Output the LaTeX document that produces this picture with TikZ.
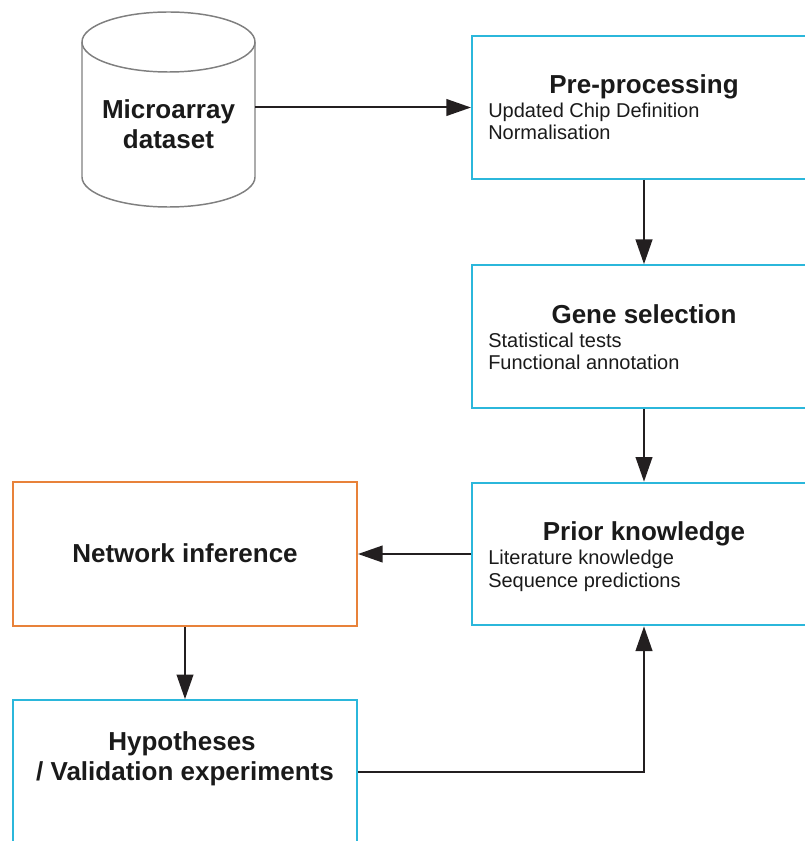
\documentclass[tikz,border=0pt]{standalone}
\usepackage{fontspec}
\setmainfont{Liberation Sans}
\usetikzlibrary{arrows.meta}
\definecolor{boxcyan}{HTML}{2BB7DB}
\definecolor{boxorange}{HTML}{E8823A}
\definecolor{arrowcol}{HTML}{231F20}
\definecolor{cylgray}{HTML}{7F7F7F}
\definecolor{textcol}{HTML}{1A1A1A}
\tikzset{
  cbox/.style={draw=boxcyan, line width=1.5pt, minimum width=258pt, minimum height=107pt, inner sep=0pt},
  obox/.style={draw=boxorange, line width=1.5pt, minimum width=258pt, minimum height=108pt, inner sep=0pt},
  ttl/.style={font=\fontsize{19.5}{22.5}\selectfont\bfseries, text=textcol, anchor=base, inner sep=0pt},
  sub/.style={font=\fontsize{15}{18}\selectfont, text=textcol, anchor=base west, inner sep=0pt},
  arr/.style={draw=arrowcol, line width=1.5pt, -{Triangle[length=18.5pt,width=12.5pt]}},
}
\begin{document}
\begin{tikzpicture}[x=0.75pt,y=-0.75pt]
\useasboundingbox (0,0) rectangle (804,841);
% cylinder
\draw[cylgray, line width=1.1pt] (168.5,42) ellipse [x radius=86.5, y radius=30];
\draw[cylgray, line width=1.1pt] (82,42) -- (82,177) arc[start angle=180, end angle=0, x radius=86.5, y radius=30] -- (255,42);
\node[minimum width=129.75pt, minimum height=10pt, inner sep=0pt] (cyl) at (168.5,107.5) {};
\node[ttl] (cylt1) at (168.5,119) {Microarray};
\node[ttl] (cylt2) at (168.5,149) {dataset};
% right column
\node[cbox] (pre) at (644,107.5) {};
\node[ttl] (pret) at (644,94) {Pre-processing};
\node[sub] (pres1) at (488,118) {Updated Chip Definition};
\node[sub] (pres2) at (488,140) {Normalisation};

\node[cbox] (gene) at (644,336.5) {};
\node[ttl] (genet) at (644,323) {Gene selection};
\node[sub] (genes1) at (488,347) {Statistical tests};
\node[sub] (genes2) at (488,369) {Functional annotation};

\node[cbox] (prior) at (644,554) {};
\node[ttl] (priort) at (644,540) {Prior knowledge};
\node[sub] (priors1) at (488,564) {Literature knowledge};
\node[sub] (priors2) at (488,587) {Sequence predictions};
% left column
\node[obox] (net) at (185,554) {};
\node[ttl] (nett) at (185,562) {Network inference};

\node[cbox] (hyp) at (185,771.5) {};
\node[ttl] (hypt1) at (182,750) {Hypotheses};
\node[ttl] (hypt2) at (185,780) {/ Validation experiments};
% connectors
\draw[arr] (cyl.east) -- (pre.west);
\draw[arr] (pre.south) -- (gene.north);
\draw[arr] (gene.south) -- (prior.north);
\draw[arr] (prior.west) -- (net.east);
\draw[arr] (net.south) -- (hyp.north);
\draw[arr] (hyp.east) -| (prior.south);
\end{tikzpicture}
\end{document}
